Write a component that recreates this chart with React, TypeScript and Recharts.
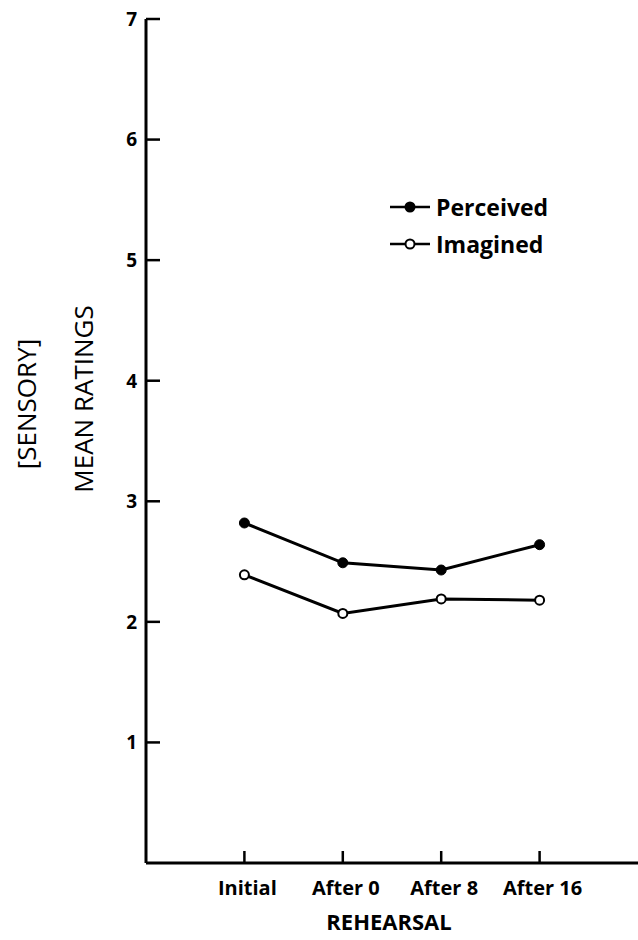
import React from "react";
import { LineChart, Line, XAxis, YAxis } from "recharts";

const categories = ["Initial", "After 0", "After 8", "After 16"];
const perceived = [2.82, 2.49, 2.43, 2.64];
const imagined = [2.39, 2.07, 2.19, 2.18];
const yTicks = [1, 2, 3, 4, 5, 6, 7];

const data = categories.map((label, i) => ({
  pos: i + 1,
  label,
  perceived: perceived[i],
  imagined: imagined[i],
}));

const FONT = "'Open Sans', 'Noto Sans', sans-serif";

function YTick(props: any) {
  const { x, y, payload } = props;
  return (
    <g>
      <line x1={x} x2={x + 14} y1={y} y2={y} stroke="#000" strokeWidth={2.5} />
      <text
        x={x - 9}
        y={y}
        dy="0.36em"
        textAnchor="end"
        fontFamily={FONT}
        fontWeight={700}
        fontSize={19}
        fill="#000"
      >
        {payload.value}
      </text>
    </g>
  );
}

function XTick(props: any) {
  const { x, y, payload } = props;
  return (
    <g>
      <line x1={x} x2={x} y1={y} y2={y - 12} stroke="#000" strokeWidth={2.5} />
      <text
        x={x + 3}
        y={y + 32}
        textAnchor="middle"
        fontFamily={FONT}
        fontWeight={700}
        fontSize={20}
        fill="#000"
      >
        {categories[payload.value - 1]}
      </text>
    </g>
  );
}

// legend drawn as an overlay so it doesn't eat plot space
function LegendBox() {
  const rows = [
    { name: "Perceived", filled: true },
    { name: "Imagined", filled: false },
  ];
  return (
    <div
      style={{
        position: "absolute",
        left: 388,
        top: 188,
        fontFamily: FONT,
        fontWeight: 700,
        fontSize: 23,
      }}
    >
      {rows.map((r) => (
        <div
          key={r.name}
          style={{ display: "flex", alignItems: "center", height: 37 }}
        >
          <svg width={50} height={14}>
            <line x1={2} x2={42} y1={7} y2={7} stroke="#000" strokeWidth={2.5} />
            <circle
              cx={22}
              cy={7}
              r={4.5}
              fill={r.filled ? "#000" : "#fff"}
              stroke="#000"
              strokeWidth={2}
            />
          </svg>
          <span style={{ marginLeft: -2 }}>{r.name}</span>
        </div>
      ))}
    </div>
  );
}

export default function App() {
  return (
    <div
      style={{
        position: "absolute",
        left: 0,
        top: 0,
        width: 638,
        height: 940,
        background: "#fff",
      }}
    >
      <LineChart
        width={638}
        height={940}
        data={data}
        margin={{ top: 19, right: 0, bottom: 0, left: 0 }}
      >
        <XAxis
          dataKey="pos"
          type="number"
          domain={[0, 5]}
          ticks={[1, 2, 3, 4]}
          height={77}
          axisLine={{ stroke: "#000", strokeWidth: 3 }}
          tickLine={false}
          tickSize={0}
          tickMargin={0}
          tick={<XTick />}
          label={{
            content: () => (
              <text
                x={389}
                y={930}
                textAnchor="middle"
                fontFamily={FONT}
                fontWeight={700}
                fontSize={22}
                fill="#000"
              >
                REHEARSAL
              </text>
            ),
          }}
        />
        <YAxis
          type="number"
          domain={[0, 7]}
          ticks={yTicks}
          width={146}
          axisLine={{ stroke: "#000", strokeWidth: 3 }}
          tickLine={false}
          tickSize={0}
          tickMargin={0}
          tick={<YTick />}
          label={{
            content: () => (
              <g fontFamily={FONT} fontSize={26} fill="#000">
                <text
                  x={26}
                  y={404}
                  textAnchor="middle"
                  dominantBaseline="central"
                  transform="rotate(-90 26 404)"
                >
                  [SENSORY]
                </text>
                <text
                  x={83}
                  y={399}
                  textAnchor="middle"
                  dominantBaseline="central"
                  transform="rotate(-90 83 399)"
                >
                  MEAN RATINGS
                </text>
              </g>
            ),
          }}
        />
        <Line
          type="linear"
          dataKey="perceived"
          name="Perceived"
          stroke="#000"
          strokeWidth={3}
          dot={{ r: 5, fill: "#000", stroke: "#000", strokeWidth: 1 }}
          isAnimationActive={false}
        />
        <Line
          type="linear"
          dataKey="imagined"
          name="Imagined"
          stroke="#000"
          strokeWidth={3}
          dot={{ r: 4.5, fill: "#fff", stroke: "#000", strokeWidth: 2 }}
          isAnimationActive={false}
        />
      </LineChart>
      <LegendBox />
    </div>
  );
}
